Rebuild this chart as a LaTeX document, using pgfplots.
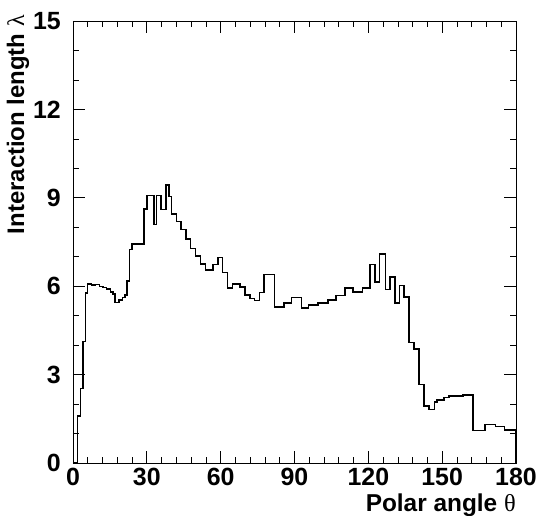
\documentclass[border=0pt]{standalone}
\usepackage{fontspec}
\setmainfont{Liberation Sans}
\newfontfamily\greekfont{Liberation Serif}
\usepackage{pgfplots}
\pgfplotsset{compat=1.18}
\begin{document}
\begin{tikzpicture}
\useasboundingbox (-73bp,-53bp) rectangle (464bp,463bp);
\begin{axis}[
  at={(0bp,0bp)}, anchor=south west,
  scale only axis, width=443bp, height=442bp,
  xmin=0, xmax=180, ymin=0, ymax=15,
  xtick={0,30,...,180}, ytick={0,3,...,15},
  minor x tick num=4, minor y tick num=2,
  tick align=inside, major tick length=12bp, minor tick length=6bp,
  tick style={black, line width=0.7pt},
  axis line style={line width=0.8pt},
  /pgf/number format/assume math mode=true,
  ticklabel style={font=\fontsize{25}{25}\selectfont\bfseries, inner sep=0pt},
  xticklabel style={yshift=-5bp},
  yticklabel style={xshift=-12bp},
  xlabel={\bfseries Polar angle {\greekfont\mdseries θ}},
  ylabel={\bfseries Interaction length {\greekfont\mdseries λ}},
  xlabel style={font=\fontsize{24.5}{24.5}\selectfont, inner sep=0pt, at={(axis description cs:1.0,-0.1086)}, anchor=base east},
  ylabel style={font=\fontsize{24}{24}\selectfont, inner sep=0pt, at={(axis description cs:-0.124,1.0136)}, anchor=east},
]
\addplot[const plot, black, line width=1.6pt] coordinates {
(0,0) (1.9,1.60) (3.1,2.53) (3.95,4.12) (5.0,5.77) (5.85,6.08) (7.46,6.04)
(9.09,6.06) (10.85,5.99) (12.2,5.95) (13.56,5.90) (15.18,5.81) (16.27,5.74)
(16.95,5.45) (18.7,5.54) (20.06,5.61) (21.14,5.70) (21.95,6.17) (23.0,7.24)
(24.0,7.44) (28.9,8.62) (30.1,9.08) (32.8,8.10) (34.0,9.08) (35.7,8.60)
(37.9,9.43) (39.0,9.05) (40.0,8.46) (42.0,8.19) (44.0,7.92) (45.9,7.60)
(47.8,7.28) (49.7,7.03) (51.8,6.76) (53.8,6.55) (56.9,6.74) (58.9,6.97)
(60.8,6.47) (62.8,5.94) (64.8,6.08) (67.9,5.97) (69.9,5.70) (71.8,5.58)
(73.7,5.52) (75.7,5.79) (77.7,6.40) (81.8,5.30) (85.8,5.43) (88.7,5.62)
(92.8,5.27) (95.7,5.36) (99.6,5.43) (103.6,5.54) (106.8,5.68) (110.6,5.93)
(113.8,5.81) (117.6,5.94) (120.7,6.73) (122.8,6.15) (124.6,7.10) (126.9,5.89)
(128.8,6.31) (130.8,5.42) (132.6,6.02) (134.6,5.63) (136.6,4.09) (138.6,3.87)
(140.5,2.66) (142.7,1.94) (144.7,1.82) (146.9,2.08) (148.0,2.14) (150.7,2.22)
(152.8,2.28) (158.5,2.31) (162.5,1.10) (167.5,1.30) (171.6,1.24) (175.4,1.12)
(180,1.12) (180,0)
};
\end{axis}
\end{tikzpicture}
\end{document}
